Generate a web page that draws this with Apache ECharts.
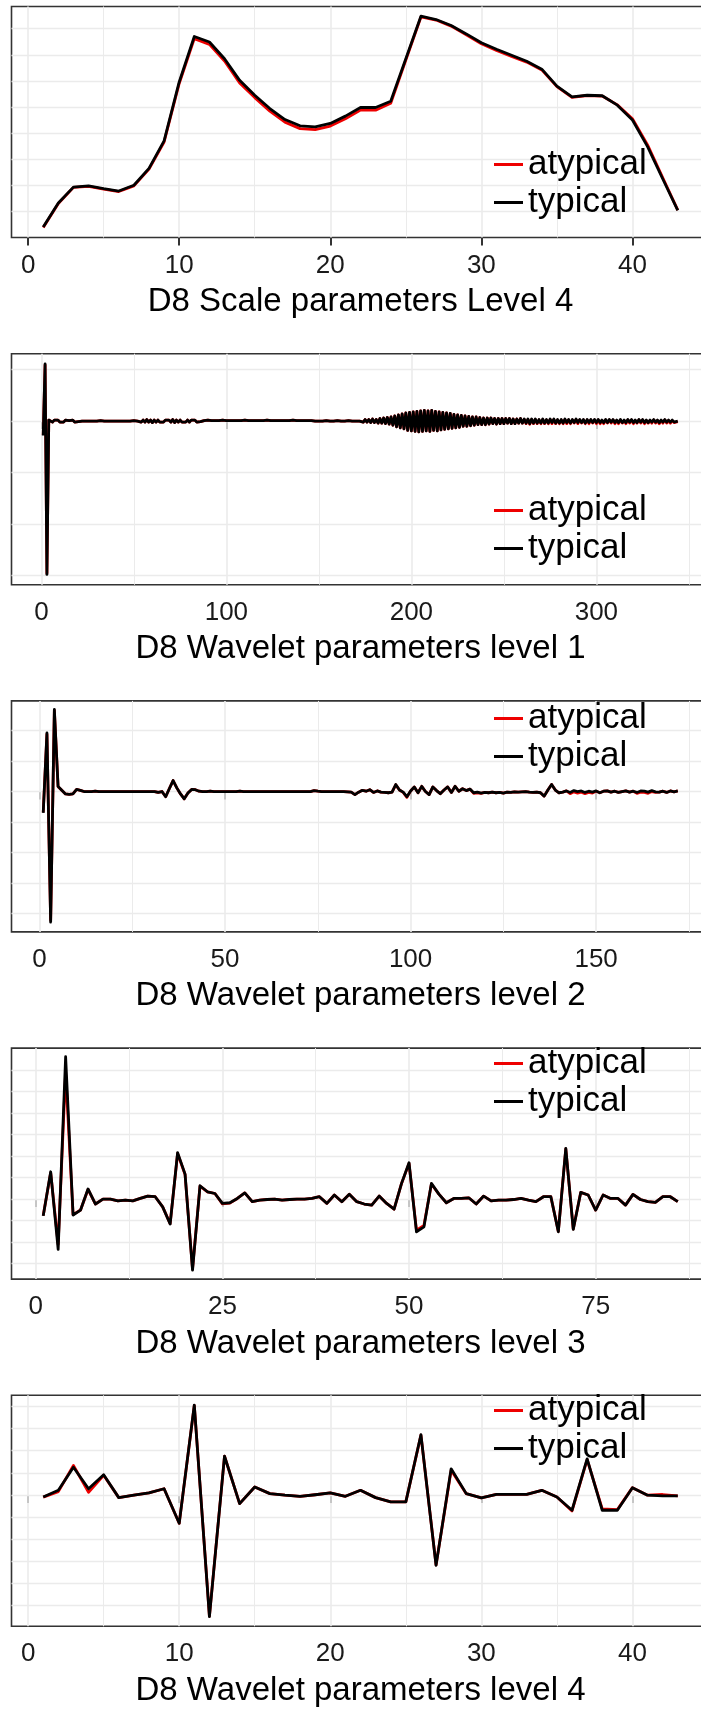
<!DOCTYPE html>
<html><head><meta charset="utf-8">
<script src="https://cdn.jsdelivr.net/npm/echarts@6/dist/echarts.min.js"></script>
<style>html,body{margin:0;padding:0;background:#fff}#c{width:701px;height:1711px}</style>
</head><body><div id="c"></div>
<script>
// ---------- DATA (y values in arbitrary units; y axis carries no labels) ----------
const panelTitles = [
  "D8 Scale parameters Level 4",
  "D8 Wavelet parameters level 1",
  "D8 Wavelet parameters level 2",
  "D8 Wavelet parameters level 3",
  "D8 Wavelet parameters level 4"
];
const seriesNames = ["atypical", "typical"];

const scaleL4Typical = [
  0.40, 1.32, 1.93, 1.98, 1.87, 1.78, 2.00, 2.65, 3.70, 5.96,
  7.70, 7.49, 6.85, 6.02, 5.45, 4.94, 4.52, 4.28, 4.24, 4.37,
  4.65, 4.98, 4.98, 5.22, 6.85, 8.48, 8.35, 8.12, 7.80, 7.46,
  7.21, 6.98, 6.75, 6.45, 5.80, 5.39, 5.45, 5.43, 5.07, 4.50,
  3.48, 2.25, 1.04
];
const scaleL4Atypical = [
  0.38, 1.30, 1.92, 1.96, 1.85, 1.76, 1.98, 2.62, 3.66, 5.90,
  7.62, 7.40, 6.76, 5.92, 5.36, 4.84, 4.42, 4.17, 4.13, 4.27,
  4.55, 4.88, 4.88, 5.14, 6.80, 8.45, 8.33, 8.10, 7.77, 7.42,
  7.17, 6.94, 6.72, 6.42, 5.78, 5.37, 5.44, 5.42, 5.08, 4.55,
  3.55, 2.30, 1.05
];

const waveL1Typical = [
  -0.28, 1.11, -2.98, 0.02, 0.01, -0.02, 0.02, -0.01, 0.02, -0.02,
  0.01, -0.02, 0.02, -0.01, 0.01, -0.01, 0.02, -0.02, 0.01, -0.01,
  0.01, 0, 0.01, 0, 0, 0, 0.01, 0, 0, 0,
  0, 0.01, 0, 0, 0, 0, 0.01, 0, 0, 0,
  0, 0, 0.01, 0, 0, 0, 0, 0, 0, 0.01,
  0, 0, 0.02, -0.02, 0.02, -0.02, 0.03, -0.02, 0.02, -0.03,
  0.02, -0.02, 0.02, -0.02, 0.01, -0.02, 0.02, -0.01, 0.02, -0.02,
  0.03, -0.03, 0.02, -0.02, 0.02, -0.02, 0.01, -0.02, 0.02, -0.02,
  0.02, -0.01, 0.02, -0.02, 0.01, -0.01, 0.01, 0.01, -0.01, 0.02,
  -0.01, 0.01, -0.02, 0.01, -0.01, 0.01, -0.01, 0.02, -0.01, 0.01,
  -0.01, 0.01, -0.02, 0.01, -0.01, 0.01, -0.01, 0.01, -0.01, 0.02,
  -0.01, 0.01, -0.01, 0.01, -0.01, 0.01, -0.02, 0.01, -0.01, 0.01,
  -0.01, 0.02, -0.01, 0.01, -0.01, 0.01, -0.01, 0.01, -0.02, 0.01,
  -0.01, 0.01, -0.01, 0.01, -0.01, 0.02, -0.01, 0.01, -0.01, 0.01,
  -0.01, 0.01, -0.01, 0.01, 0, 0.01, 0, 0, 0.01, 0,
  0, 0, 0, 0.01, 0, 0, 0, 0, 0, 0.01,
  0, 0, 0, 0, 0, 0.01, 0, 0, 0, 0,
  0.01, 0, 0.02, -0.02, 0.03, -0.02, 0.03, -0.03, 0.04, -0.03,
  0.03, -0.04, 0.05, -0.04, 0.06, -0.05, 0.07, -0.06, 0.08, -0.08,
  0.10, -0.11, 0.12, -0.13, 0.14, -0.15, 0.16, -0.18, 0.17, -0.19,
  0.18, -0.20, 0.19, -0.21, 0.20, -0.20, 0.21, -0.19, 0.20, -0.20,
  0.21, -0.18, 0.19, -0.19, 0.18, -0.17, 0.17, -0.16, 0.16, -0.15,
  0.15, -0.14, 0.13, -0.13, 0.12, -0.12, 0.11, -0.10, 0.10, -0.10,
  0.09, -0.09, 0.08, -0.08, 0.08, -0.07, 0.07, -0.07, 0.06, -0.07,
  0.06, -0.06, 0.06, -0.05, 0.05, -0.06, 0.05, -0.05, 0.05, -0.05,
  0.05, -0.04, 0.05, -0.05, 0.04, -0.05, 0.04, -0.04, 0.05, -0.04,
  0.04, -0.04, 0.04, -0.05, 0.04, -0.04, 0.04, -0.04, 0.03, -0.04,
  0.04, -0.04, 0.03, -0.04, 0.04, -0.03, 0.04, -0.04, 0.03, -0.04,
  0.03, -0.04, 0.04, -0.03, 0.03, -0.04, 0.03, -0.03, 0.04, -0.03,
  0.03, -0.03, 0.03, -0.04, 0.03, -0.03, 0.03, -0.03, 0.03, -0.03,
  0.03, -0.03, 0.02, -0.03, 0.03, -0.03, 0.03, -0.02, 0.03, -0.03,
  0.02, -0.03, 0.03, -0.03, 0.02, -0.03, 0.03, -0.02, 0.03, -0.03,
  0.02, -0.03, 0.03, -0.02, 0.03, -0.03, 0.02, -0.03, 0.02, -0.02,
  0.03, -0.02, 0.02, -0.03, 0.02, -0.02, 0.03, -0.02, 0.02, -0.02,
  0.02, -0.02, 0.01, 0.00
];
const waveL1Atypical = [
  -0.27, 1.09, -2.96, 0.02, 0.01, -0.02, 0.02, -0.01, 0.02, -0.02,
  0.01, -0.02, 0.02, -0.01, 0.01, -0.01, 0.02, -0.02, 0.01, -0.01,
  0.01, 0, 0.01, 0, 0, 0, 0.01, 0, 0, 0,
  0, 0.01, 0, 0, 0, 0, 0.01, 0, 0, 0,
  0, 0, 0.01, 0, 0, 0, 0, 0, 0, 0.01,
  0, 0, 0.02, -0.02, 0.02, -0.02, 0.03, -0.02, 0.02, -0.03,
  0.02, -0.02, 0.02, -0.02, 0.01, -0.02, 0.02, -0.01, 0.02, -0.02,
  0.03, -0.03, 0.02, -0.02, 0.02, -0.02, 0.01, -0.02, 0.02, -0.02,
  0.02, -0.01, 0.02, -0.02, 0.01, -0.01, 0.01, 0.01, -0.01, 0.02,
  -0.01, 0.01, -0.02, 0.01, -0.01, 0.01, -0.01, 0.02, -0.01, 0.01,
  -0.01, 0.01, -0.02, 0.01, -0.01, 0.01, -0.01, 0.01, -0.01, 0.02,
  -0.01, 0.01, -0.01, 0.01, -0.01, 0.01, -0.02, 0.01, -0.01, 0.01,
  -0.01, 0.02, -0.01, 0.01, -0.01, 0.01, -0.01, 0.01, -0.02, 0.01,
  -0.01, 0.01, -0.01, 0.01, -0.01, 0.02, -0.01, 0.01, -0.01, 0.01,
  -0.01, 0.01, -0.01, 0.01, 0, 0.01, 0, 0, 0.01, 0,
  0, 0, 0, 0.01, 0, 0, 0, 0, 0, 0.01,
  0, 0, 0, 0, 0, 0.01, 0, 0, 0, 0,
  0.01, 0, 0.02, -0.02, 0.03, -0.02, 0.03, -0.03, 0.04, -0.03,
  0.03, -0.04, 0.05, -0.04, 0.06, -0.05, 0.07, -0.06, 0.08, -0.08,
  0.10, -0.11, 0.12, -0.13, 0.14, -0.15, 0.16, -0.18, 0.17, -0.19,
  0.18, -0.20, 0.19, -0.21, 0.20, -0.20, 0.21, -0.19, 0.20, -0.20,
  0.21, -0.18, 0.19, -0.19, 0.18, -0.17, 0.17, -0.16, 0.16, -0.15,
  0.15, -0.14, 0.13, -0.13, 0.12, -0.12, 0.11, -0.10, 0.10, -0.10,
  0.09, -0.09, 0.08, -0.08, 0.08, -0.07, 0.07, -0.07, 0.06, -0.07,
  0.06, -0.06, 0.06, -0.05, 0.05, -0.06, 0.05, -0.05, 0.05, -0.05,
  0.05, -0.04, 0.05, -0.05, 0.04, -0.05, 0.04, -0.04, 0.05, -0.04,
  0.03, -0.05, 0.03, -0.06, 0.03, -0.05, 0.03, -0.05, 0.02, -0.05,
  0.03, -0.05, 0.02, -0.05, 0.03, -0.05, 0.03, -0.05, 0.02, -0.05,
  0.02, -0.05, 0.03, -0.05, 0.02, -0.05, 0.02, -0.04, 0.03, -0.05,
  0.02, -0.04, 0.02, -0.05, 0.02, -0.05, 0.02, -0.04, 0.02, -0.05,
  0.02, -0.05, 0.01, -0.05, 0.02, -0.04, 0.02, -0.04, 0.02, -0.05,
  0.01, -0.05, 0.02, -0.04, 0.01, -0.05, 0.02, -0.04, 0.02, -0.05,
  0.01, -0.04, 0.02, -0.04, 0.02, -0.05, 0.01, -0.04, 0.01, -0.04,
  0.02, -0.04, 0.01, -0.05, 0.01, -0.04, 0.02, -0.04, 0.01, -0.04,
  0.01, -0.03, 0.00, -0.01
];

const waveL2Typical = [
  -0.70, 1.92, -4.28, 2.69, 0.17, 0.04, -0.08, -0.09, -0.08, 0.07,
  0.04, 0.00, 0.00, 0.00, 0.01, 0.00, 0.00, 0.00, 0.00, 0.00,
  0.00, 0.00, 0.00, 0.00, 0.00, 0.00, 0.00, 0.00, 0.00, 0.00,
  0.00, -0.03, 0.00, -0.17, 0.10, 0.36, 0.12, -0.08, -0.24, -0.05,
  0.07, 0.06, 0.01, 0.00, 0.00, 0.01, 0.00, 0.00, 0.00, 0.00,
  0.00, 0.00, 0.00, 0.01, 0.00, 0.00, 0.00, 0.00, 0.00, 0.00,
  0.00, 0.00, 0.00, 0.00, 0.00, 0.00, 0.00, 0.00, 0.00, 0.00,
  0.00, 0.00, 0.00, 0.03, 0.01, 0.00, 0.00, 0.00, 0.00, 0.00,
  0.00, 0.00, -0.01, -0.02, -0.10, -0.02, 0.04, 0.01, 0.06, -0.03,
  0.02, -0.02, -0.03, -0.04, -0.02, 0.23, 0.05, -0.02, -0.17, 0.02,
  0.15, -0.04, 0.17, 0.00, -0.10, 0.15, 0.03, -0.07, 0.05, 0.15,
  -0.03, 0.17, 0.01, 0.09, 0.03, 0.08, -0.04, -0.02, -0.05, -0.03,
  -0.04, -0.02, -0.04, -0.03, -0.05, -0.02, -0.03, -0.01, -0.02, -0.01,
  0.00, -0.02, -0.03, -0.02, -0.04, -0.15, 0.05, 0.23, 0.05, -0.04,
  -0.02, 0.02, -0.03, 0.03, 0.00, 0.02, -0.03, 0.01, -0.02, 0.02,
  -0.04, 0.01, 0.02, -0.02, 0.01, -0.03, 0.00, 0.02, -0.02, 0.01,
  -0.03, 0.02, 0.01, -0.02, 0.03, -0.01, -0.02, 0.01, -0.03, 0.02,
  -0.01, 0.02
];
const waveL2Atypical = [
  -0.68, 1.88, -4.22, 2.66, 0.16, 0.04, -0.08, -0.09, -0.08, 0.07,
  0.04, 0.00, 0.00, 0.00, 0.01, 0.00, 0.00, 0.00, 0.00, 0.00,
  0.00, 0.00, 0.00, 0.00, 0.00, 0.00, 0.00, 0.00, 0.00, 0.00,
  0.00, -0.03, 0.00, -0.17, 0.10, 0.36, 0.12, -0.08, -0.24, -0.05,
  0.07, 0.06, 0.01, 0.00, 0.00, 0.01, 0.00, 0.00, 0.00, 0.00,
  0.00, 0.00, 0.00, 0.01, 0.00, 0.00, 0.00, 0.00, 0.00, 0.00,
  0.00, 0.00, 0.00, 0.00, 0.00, 0.00, 0.00, 0.00, 0.00, 0.00,
  0.00, 0.00, 0.00, 0.03, 0.01, 0.00, 0.00, 0.00, 0.00, 0.00,
  0.00, 0.00, -0.01, -0.02, -0.10, -0.02, 0.04, 0.01, 0.06, -0.03,
  0.02, -0.02, -0.03, -0.04, -0.02, 0.22, 0.05, -0.03, -0.19, 0.02,
  0.15, -0.04, 0.17, 0.00, -0.10, 0.15, 0.03, -0.07, 0.05, 0.15,
  -0.03, 0.17, 0.01, 0.09, 0.03, 0.08, -0.06, -0.04, -0.06, -0.03,
  -0.04, -0.02, -0.04, -0.03, -0.05, -0.02, -0.03, -0.01, -0.02, -0.01,
  0.00, -0.02, -0.03, -0.02, -0.04, -0.15, 0.05, 0.23, 0.05, -0.04,
  -0.02, 0.02, -0.07, -0.01, -0.05, -0.02, -0.07, -0.03, -0.05, 0.01,
  -0.04, 0.01, 0.02, -0.02, 0.01, -0.03, 0.00, 0.02, -0.02, 0.01,
  -0.06, -0.02, -0.03, -0.06, 0.00, -0.03, -0.02, 0.01, -0.03, 0.02,
  -0.01, 0.02
];

const waveL3Typical = [
  -0.78, 1.27, -2.34, 6.62, -0.74, -0.51, 0.47, -0.23, 0.00, 0.00,
  -0.08, -0.05, -0.08, 0.03, 0.14, 0.11, -0.36, -1.16, 2.16, 1.16,
  -3.30, 0.62, 0.34, 0.26, -0.20, -0.17, 0.03, 0.29, -0.12, -0.05,
  -0.02, 0.00, -0.05, -0.02, 0.00, 0.00, 0.03, 0.11, -0.20, 0.19,
  -0.12, 0.23, -0.12, -0.23, -0.28, 0.14, -0.20, -0.47, 0.73, 1.69,
  -1.52, -1.29, 0.73, 0.23, -0.17, 0.03, 0.03, 0.06, -0.23, 0.14,
  -0.08, -0.05, -0.05, -0.02, 0.03, -0.05, -0.12, 0.11, 0.11, -1.52,
  2.36, -1.41, 0.31, 0.19, -0.51, 0.19, 0.03, 0.03, -0.28, 0.22,
  -0.02, -0.12, -0.15, 0.11, 0.11, -0.12
];
const waveL3Atypical = [
  -0.76, 1.22, -2.10, 5.90, -0.72, -0.51, 0.45, -0.23, 0.00, 0.00,
  -0.08, -0.05, -0.08, 0.03, 0.14, 0.11, -0.36, -1.14, 2.12, 1.14,
  -3.25, 0.60, 0.34, 0.26, -0.22, -0.19, 0.03, 0.29, -0.12, -0.05,
  -0.02, 0.00, -0.05, -0.02, 0.00, 0.00, 0.03, 0.11, -0.20, 0.19,
  -0.12, 0.23, -0.12, -0.23, -0.28, 0.14, -0.20, -0.47, 0.73, 1.66,
  -1.45, -1.22, 0.70, 0.23, -0.17, 0.03, 0.03, 0.06, -0.23, 0.14,
  -0.08, -0.05, -0.05, -0.02, 0.03, -0.05, -0.12, 0.11, 0.11, -1.50,
  2.33, -1.39, 0.31, 0.19, -0.51, 0.19, 0.03, 0.03, -0.28, 0.22,
  -0.02, -0.12, -0.15, 0.11, 0.11, -0.12
];

const waveL4Typical = [
  -0.09, 0.21, 1.25, 0.28, 0.91, -0.12, -0.01, 0.09, 0.28, -1.28,
  4.06, -5.49, 1.75, -0.39, 0.36, 0.06, -0.01, -0.06, 0.01, 0.09,
  -0.06, 0.21, -0.12, -0.31, -0.31, 2.72, -3.18, 1.18, 0.06, -0.13,
  0.03, 0.03, 0.03, 0.21, -0.09, -0.69, 1.63, -0.69, -0.69, 0.33,
  -0.01, -0.04, -0.04
];
const waveL4Atypical = [
  -0.10, 0.15, 1.33, 0.12, 0.89, -0.12, -0.01, 0.09, 0.28, -1.28,
  4.04, -5.47, 1.75, -0.39, 0.36, 0.06, -0.01, -0.06, 0.01, 0.09,
  -0.06, 0.21, -0.12, -0.31, -0.31, 2.70, -3.16, 1.12, 0.06, -0.13,
  0.03, 0.03, 0.03, 0.21, -0.09, -0.72, 1.60, -0.63, -0.66, 0.33,
  -0.01, 0.02, -0.04
];

// tick labels / gridlines per panel
const xTickValues = [[0,10,20,30,40],[0,100,200,300],[0,50,100,150],[0,25,50,75],[0,10,20,30,40]];
const xMinorGrid  = [[5,15,25,35,45],[50,150,250,350],[25,75,125,175],[12.5,37.5,62.5,87.5],[5,15,25,35,45]];
const yGridValues = [[1,2,3,4,5,6,7,8],[-3,-2,-1,0,1],[-4,-3,-2,-1,0,1,2],[-3,-2,-1,0,1,2,3,4,5,6],[-5,-4,-3,-2,-1,0,1,2,3,4]];

// ---------- LAYOUT ----------
const panelData = [
  [scaleL4Atypical, scaleL4Typical],
  [waveL1Atypical, waveL1Typical],
  [waveL2Atypical, waveL2Typical],
  [waveL3Atypical, waveL3Typical],
  [waveL4Atypical, waveL4Typical]
];
const xRanges = [[-1.1,45.1],[-16.15,361.15],[-7.55,180.55],[-3.25,90.25],[-1.1,45.1]];
const yRanges = [[0,8.85],[-3.18,1.31],[-4.6,2.97],[-3.72,7.02],[-5.93,4.5]];
const gridTops = [6.5, 353.7, 700.9, 1048.1, 1395.3];
const legendTops = [146, 492, 700, 1045, 1392];

const FONT = "Liberation Sans";
const GRID_COLOR = "#EBEBEB";
const lineColors = ["#EE0000", "#000000"];

const grids = [], xAxes = [], yAxes = [], series = [], legends = [];
panelData.forEach((pair, k) => {
  grids.push({left: 11.5, width: 698, top: gridTops[k], height: 231,
              outerBoundsMode: "none", containLabel: false,
              show: true, borderColor: "#333333", borderWidth: 1.6, backgroundColor: "#fff"});
  xAxes.push({
    gridIndex: k, type: "value", min: xRanges[k][0], max: xRanges[k][1],
    name: panelTitles[k], nameLocation: "middle", nameGap: 48,
    nameTextStyle: {fontFamily: FONT, fontSize: 33, color: "#000"},
    axisLine: {show: false},
    axisTick: {show: true, customValues: xTickValues[k], length: 8, lineStyle: {color: "#333", width: 2}},
    axisLabel: {show: true, customValues: xTickValues[k], fontFamily: FONT, fontSize: 26, color: "#1a1a1a", margin: 15},
    splitLine: {show: false}
  });
  yAxes.push({
    gridIndex: k, type: "value", min: yRanges[k][0], max: yRanges[k][1],
    axisLine: {show: false}, axisTick: {show: false}, axisLabel: {show: false}, splitLine: {show: false}
  });
  const gridLines = []
    .concat(xTickValues[k].map(v => ({xAxis: v, lineStyle: {width: 1.6}})))
    .concat(xMinorGrid[k].filter(v => v < xRanges[k][1]).map(v => ({xAxis: v, lineStyle: {width: 1.0}})))
    .concat(yGridValues[k].map(v => ({yAxis: v, lineStyle: {width: 1.3}})));
  pair.forEach((arr, j) => {
    const s = {
      name: seriesNames[j], type: "line", xAxisIndex: k, yAxisIndex: k,
      data: arr.map((v, i) => [i + 1, v]),
      showSymbol: false, symbol: "none", z: 3 + j, color: lineColors[j],
      lineStyle: {color: lineColors[j], width: 2.8, join: "round"},
      emphasis: {disabled: true}, silent: true
    };
    if (j === 0) {
      s.markLine = {
        silent: true, symbol: ["none", "none"], z: 1, animation: false,
        label: {show: false}, emphasis: {disabled: true},
        lineStyle: {color: GRID_COLOR, type: "solid", width: 1.3},
        data: gridLines
      };
    }
    series.push(s);
  });
  legends.push({
    left: 494, top: legendTops[k], orient: "vertical", padding: 0, itemGap: 1,
    itemWidth: 29, itemHeight: 3, icon: "rect", selectedMode: false,
    data: seriesNames,
    textStyle: {fontFamily: FONT, fontSize: 35, lineHeight: 37, color: "#000"}
  });
});

const chart = echarts.init(document.getElementById("c"), null, {renderer: "canvas"});
chart.setOption({
  animation: false, backgroundColor: "#fff",
  grid: grids, xAxis: xAxes, yAxis: yAxes, series: series, legend: legends
});
</script>
</body></html>
